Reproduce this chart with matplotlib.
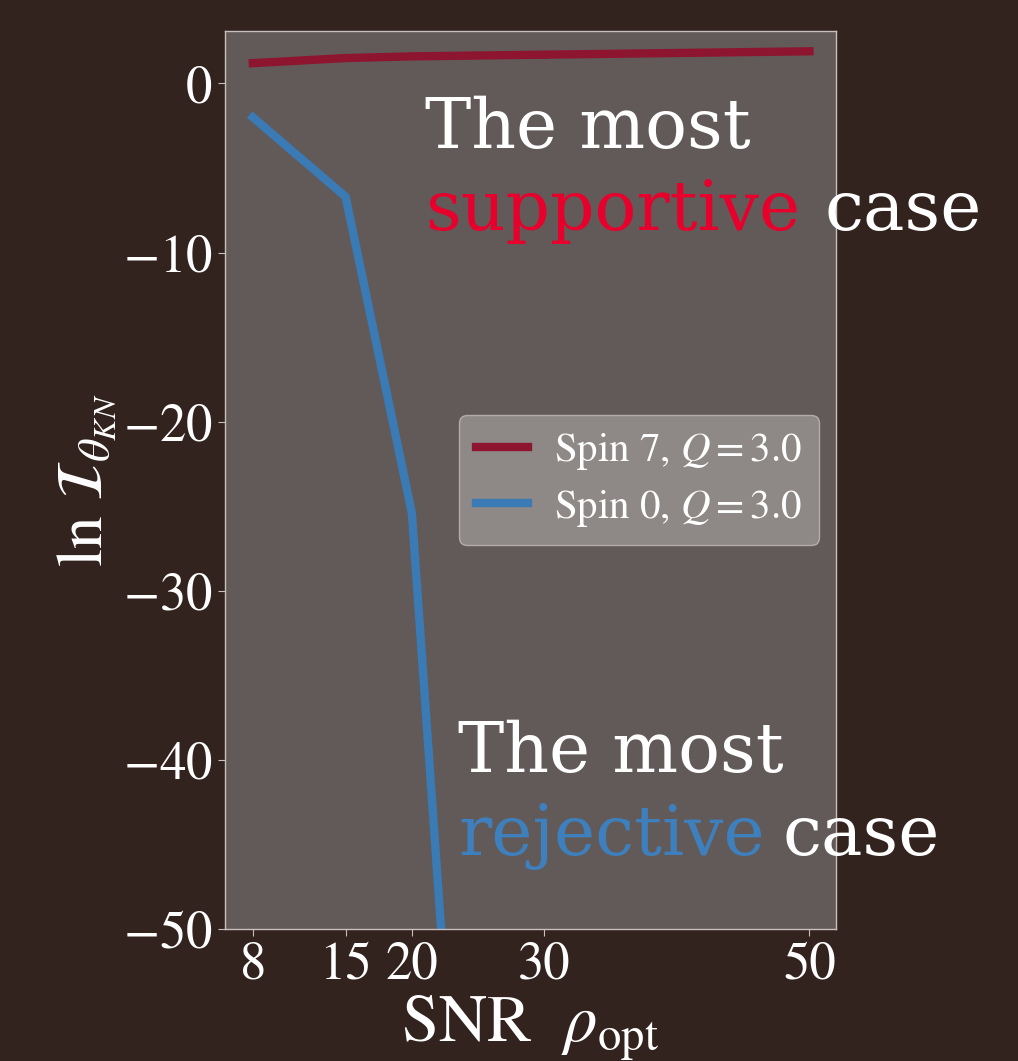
import numpy as np
import matplotlib.pyplot as plt

# signal-to-noise ratios and log-likelihoods for the two spin cases
snr = [8, 15, 20, 30, 50]
lnL_spin7 = [1.2, 1.5, 1.6, 1.7, 1.9]
lnL_spin0 = [-2.0, -6.7, -25.4, -137.0, -420.0]
xticks = [8, 15, 20, 30, 50]
yticks = [0, -10, -20, -30, -40, -50]

BG = "#33231f"
AX_BG = "#625a58"
RED = "#8e1530"
BLUE = "#3a7ab5"

plt.rcParams["font.family"] = "STIXGeneral"
plt.rcParams["mathtext.fontset"] = "stix"

fig = plt.figure(figsize=(10.18, 10.61), dpi=100, facecolor=BG)
ax = fig.add_axes([225 / 1018, 1 - 929 / 1061, 611 / 1018, 898 / 1061])
ax.set_facecolor(AX_BG)

ax.plot(snr, lnL_spin7, color=RED, lw=6, marker="o", ms=4, label=r"Spin 7, $Q=3.0$")
ax.plot(snr, lnL_spin0, color=BLUE, lw=6, marker="o", ms=4, label=r"Spin 0, $Q=3.0$")

ax.set_xlim(5.9, 52.0)
ax.set_ylim(-50, 3.1)
ax.set_xticks(xticks)
ax.set_yticks(yticks)
ax.set_yticklabels([r"$-%d$" % -t if t < 0 else "0" for t in yticks])
ax.tick_params(colors="white", labelsize=38, length=5, color="#c8c0bd", pad=4)
for s in ax.spines.values():
    s.set_color("#c8c0bd")
    s.set_linewidth(1)

ax.set_xlabel(r"SNR  $\rho_{\rm opt}$", color="white", fontsize=48, labelpad=2)
ax.set_ylabel(r"$\ln\,\mathcal{I}_{\theta_{KN}}$", color="white", fontsize=47, labelpad=3)

leg = ax.legend(loc="center right", bbox_to_anchor=(0.972, 0.5), fontsize=29.5,
                handlelength=1.27, handletextpad=0.65, borderpad=0.4, labelspacing=0.38,
                borderaxespad=0, facecolor="#9a9594", edgecolor="#c0bbba", framealpha=0.8)
for t in leg.get_texts():
    t.set_color("white")

# annotations
tkw = dict(fontsize=50, family="DejaVu Serif", va="baseline", ha="left")
fig.text(425 / 1018, 1 - 148 / 1061, "The most", color="white", **tkw)
fig.text(425 / 1018, 1 - 230 / 1061, "supportive", color="#e8002d", **tkw)
fig.text(824 / 1018, 1 - 230 / 1061, "case", color="white", **tkw)
fig.text(458 / 1018, 1 - 772 / 1061, "The most", color="white", **tkw)
fig.text(458 / 1018, 1 - 855 / 1061, "rejective", color="#3d80bd", **tkw)
fig.text(782 / 1018, 1 - 855 / 1061, "case", color="white", **tkw)

fig.savefig("out.png", dpi=100, facecolor=BG)
